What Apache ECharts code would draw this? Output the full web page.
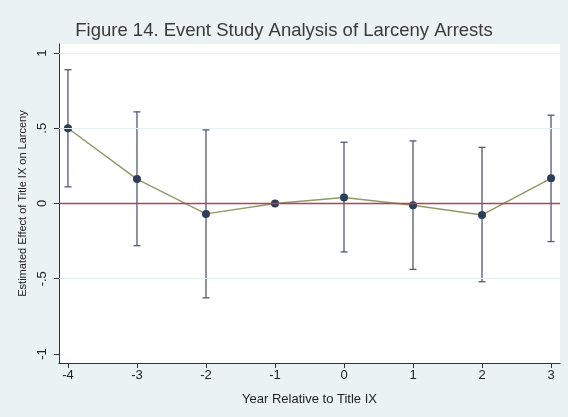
<!DOCTYPE html>
<html>
<head>
<meta charset="utf-8">
<script src="https://cdn.jsdelivr.net/npm/echarts@6/dist/echarts.min.js"></script>
<style>
html,body{margin:0;padding:0;background:#eaf2f3;}
#c{width:568px;height:417px;}
</style>
</head>
<body>
<div id="c"></div>
<script>
var years = [-4, -3, -2, -1, 0, 1, 2, 3];
var estimates = [0.50, 0.162, -0.069, 0.0, 0.04, -0.011, -0.076, 0.167];
var upperCI = [0.889, 0.609, 0.489, null, 0.407, 0.416, 0.373, 0.587];
var lowerCI = [0.111, -0.28, -0.627, null, -0.322, -0.438, -0.52, -0.253];
var xTicks = [-4, -3, -2, -1, 0, 1, 2, 3];
var yTicks = [-1, -0.5, 0, 0.5, 1];
var yGridLines = [1, 0.5, -0.5];

function fmtY(v){
  if (v === 0) return '0';
  if (v === 1) return '1';
  if (v === -1) return '-1';
  return (v < 0 ? '-' : '') + String(Math.abs(v)).replace(/^0/, '');
}

var pointData = years.map(function(y, i){ return [y, estimates[i]]; });
var ciData = [];
years.forEach(function(y, i){
  if (upperCI[i] !== null) ciData.push([y, lowerCI[i], upperCI[i]]);
});

var font = 'Liberation Sans, Arial, sans-serif';
var chart = echarts.init(document.getElementById('c'), null, {renderer: 'canvas'});
chart.setOption({
  backgroundColor: '#eaf2f3',
  animation: false,
  title: {
    text: 'Figure 14. Event Study Analysis of Larceny Arrests',
    left: 'center',
    top: 16,
    textStyle: {fontFamily: font, fontSize: 18.5, fontWeight: 'normal', color: '#3a3a3a'}
  },
  grid: {left: 59, right: 8, top: 44, bottom: 54, show: true, backgroundColor: '#ffffff', borderWidth: 0},
  xAxis: {
    type: 'value', min: -4.13, max: 3.13,
    name: 'Year Relative to Title IX', nameLocation: 'middle', nameGap: 30,
    nameTextStyle: {fontFamily: font, fontSize: 13, color: '#222'},
    axisLine: {show: true, onZero: false, lineStyle: {color: '#333', width: 1}},
    axisTick: {show: true, length: 5, customValues: xTicks, lineStyle: {color: '#333'}},
    axisLabel: {customValues: xTicks, fontFamily: font, fontSize: 13, color: '#222', margin: 6},
    splitLine: {show: false}
  },
  yAxis: {
    type: 'value', min: -1.06, max: 1.06,
    name: 'Estimated Effect of Title IX on Larceny', nameLocation: 'middle', nameGap: 31,
    nameTextStyle: {fontFamily: font, fontSize: 11, color: '#222'},
    axisLine: {show: true, onZero: false, lineStyle: {color: '#333', width: 1}},
    axisTick: {show: true, length: 5, customValues: yTicks, lineStyle: {color: '#333'}},
    axisLabel: {customValues: yTicks, rotate: 90, fontFamily: font, fontSize: 13, color: '#222', margin: 10, formatter: fmtY},
    splitLine: {show: false}
  },
  series: [
    {
      type: 'line', data: [], silent: true,
      markLine: {
        symbol: 'none', silent: true, label: {show: false},
        lineStyle: {color: '#e8eff1', width: 1, type: 'solid'},
        data: yGridLines.map(function(v){ return {yAxis: v}; })
      }
    },
    {
      type: 'line', data: [], silent: true, z: 3,
      markLine: {
        symbol: 'none', silent: true, label: {show: false},
        lineStyle: {color: '#b5405a', width: 1.3, type: 'solid'},
        data: [{yAxis: 0}]
      }
    },
    {
      type: 'line', data: pointData, z: 4,
      lineStyle: {color: '#8f9a68', width: 1.5},
      symbol: 'circle', symbolSize: 8,
      itemStyle: {color: '#2c3f56'}
    },
    {
      type: 'custom', z: 3, data: ciData,
      renderItem: function(params, api){
        var x = api.value(0);
        var lo = api.coord([x, api.value(1)]);
        var hi = api.coord([x, api.value(2)]);
        var w = 3.5;
        var style = {stroke: '#4d5b75', lineWidth: 1.3};
        return {type: 'group', children: [
          {type: 'line', shape: {x1: lo[0], y1: lo[1], x2: hi[0], y2: hi[1]}, style: style},
          {type: 'line', shape: {x1: lo[0]-w, y1: lo[1], x2: lo[0]+w, y2: lo[1]}, style: style},
          {type: 'line', shape: {x1: hi[0]-w, y1: hi[1], x2: hi[0]+w, y2: hi[1]}, style: style}
        ]};
      }
    }
  ]
});
</script>
</body>
</html>
